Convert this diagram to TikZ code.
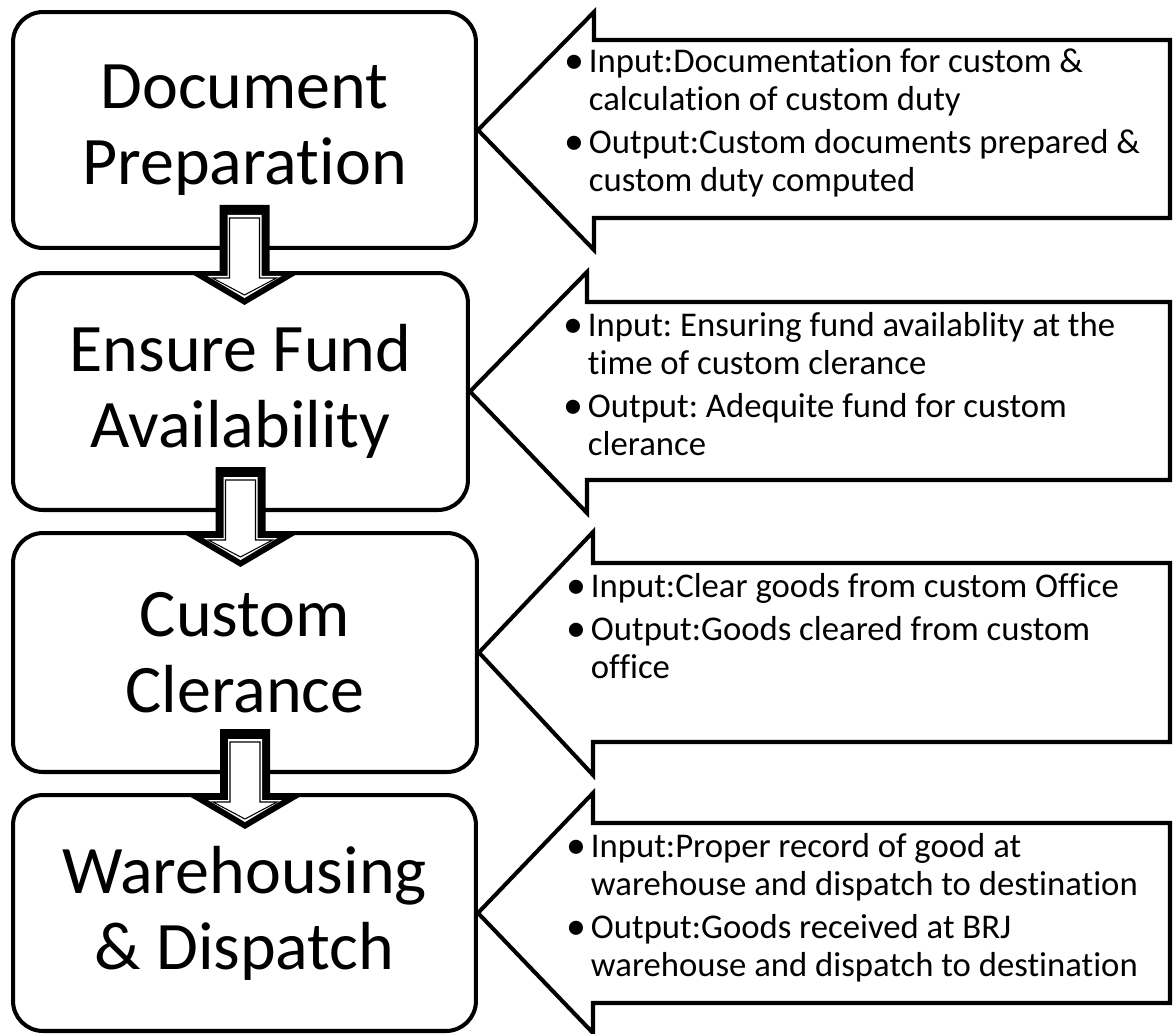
\documentclass[tikz,border=0pt]{standalone}
\usepackage{fontspec}
\setmainfont{Carlito}[Ligatures=NoCommon, RawFeature={-liga;-clig;-dlig}]
\frenchspacing
\newcommand{\bul}{\makebox[14pt][l]{\raisebox{-0.03em}{\scalebox{1.15}{\textbullet}}}}
\begin{document}
\begin{tikzpicture}[x=0.02cm,y=0.02cm]
		\tikzstyle{every node}+=[inner sep=0pt]
		\tikzstyle{stage}=[draw, line width=2.3pt, rounded corners=0.6cm, minimum width=9.26cm, minimum height=4.72cm, align=center, font=\fontsize{38.7}{43.2}\selectfont]
		\tikzstyle{callout}=[draw, line width=2.3pt, miter limit=10]
		\tikzstyle{io}=[anchor=north west, align=left, font=\fontsize{19.75}{21.6}\selectfont]
		\tikzstyle{shaft}=[fill=black]
		\tikzstyle{band}=[fill=white]
		\tikzstyle{core}=[draw=black, fill=white, line width=0.6pt]
		\useasboundingbox (0,0) rectangle (1173,-1034);
		% the four stages
		\node [stage] (doc) at (244.5,-130) {Document\\Preparation};
		\node [stage, minimum width=9.1cm, minimum height=4.74cm] (fund) at (240.5,-391.5) {Ensure Fund\\Availability};
		\node [stage, minimum width=9.28cm, minimum height=4.78cm] (clear) at (245,-652.5) {Custom\\Clerance};
		\node [stage] (ware) at (244.5,-913) {Warehousing\\\& Dispatch};
		% block arrows between the stages
		\begin{scope}[shift={(doc.south)}]
		\fill [shaft] (-25,45) -- (25,45) -- (25,-22) -- (56,-22) -- (0,-55) -- (-56,-22) -- (-25,-22) -- cycle;
		\fill [band] (-17,35) -- (17,35) -- (17,-26) -- (37,-26) -- (0,-48) -- (-37,-26) -- (-17,-26) -- cycle;
		\draw [core] (-15,32) -- (15,32) -- (15,-28) -- (32,-28) -- (0,-45) -- (-32,-28) -- (-15,-28) -- cycle;
		\end{scope}
		\begin{scope}[shift={(fund.south)}]
		\fill [shaft] (-25,45) -- (25,45) -- (25,-22) -- (56,-22) -- (0,-55) -- (-56,-22) -- (-25,-22) -- cycle;
		\fill [band] (-17,35) -- (17,35) -- (17,-26) -- (37,-26) -- (0,-48) -- (-37,-26) -- (-17,-26) -- cycle;
		\draw [core] (-15,32) -- (15,32) -- (15,-28) -- (32,-28) -- (0,-45) -- (-32,-28) -- (-15,-28) -- cycle;
		\end{scope}
		\begin{scope}[shift={(clear.south)}]
		\fill [shaft] (-25,45) -- (25,45) -- (25,-22) -- (56,-22) -- (0,-55) -- (-56,-22) -- (-25,-22) -- cycle;
		\fill [band] (-17,35) -- (17,35) -- (17,-26) -- (37,-26) -- (0,-48) -- (-37,-26) -- (-17,-26) -- cycle;
		\draw [core] (-15,32) -- (15,32) -- (15,-28) -- (32,-28) -- (0,-45) -- (-32,-28) -- (-15,-28) -- cycle;
		\end{scope}
		% callouts pointing at the stages
		\draw [callout] (doc.east) -- (594,-12) -- (594,-40) -- (1170,-40) -- (1170,-218) -- (594,-218) -- (594,-250) -- cycle;
		\draw [callout] (fund.east) -- (587,-272) -- (587,-302) -- (1170,-302) -- (1170,-480) -- (587,-480) -- (587,-513) -- cycle;
		\draw [callout] (clear.east) -- (593,-532) -- (593,-563) -- (1170,-563) -- (1170,-742) -- (593,-742) -- (593,-775) -- cycle;
		\draw [callout] (ware.east) -- (593,-793) -- (593,-823) -- (1170,-823) -- (1170,-1003) -- (593,-1003) -- (593,-1033) -- cycle;
		\node [io] (docio) at (564,-45.5) {\begin{tabular}{@{}l@{}l@{}}
			\bul & Input:Documentation for custom \&\\
			& calculation of custom duty\\[2.8pt]
			\bul & Output:Custom documents prepared \&\\
			& custom duty computed
		\end{tabular}};
		\node [io] (fundio) at (563,-309.5) {\begin{tabular}{@{}l@{}l@{}}
			\bul & Input: Ensuring fund availablity at the\\
			& time of custom clerance\\[2.8pt]
			\bul & Output: Adequite fund for custom\\
			& clerance
		\end{tabular}};
		\node [io] (cleario) at (566,-570.5) {\begin{tabular}{@{}l@{}l@{}}
			\bul & Input:Clear goods from custom Office\\[2.8pt]
			\bul & Output:Goods cleared from custom\\
			& office
		\end{tabular}};
		\node [io] (wareio) at (566,-830.5) {\begin{tabular}{@{}l@{}l@{}}
			\bul & Input:Proper record of good at\\
			& warehouse and dispatch to destination\\[2.8pt]
			\bul & Output:Goods received at BRJ\\
			& warehouse and dispatch to destination
		\end{tabular}};
	\end{tikzpicture}
\end{document}
